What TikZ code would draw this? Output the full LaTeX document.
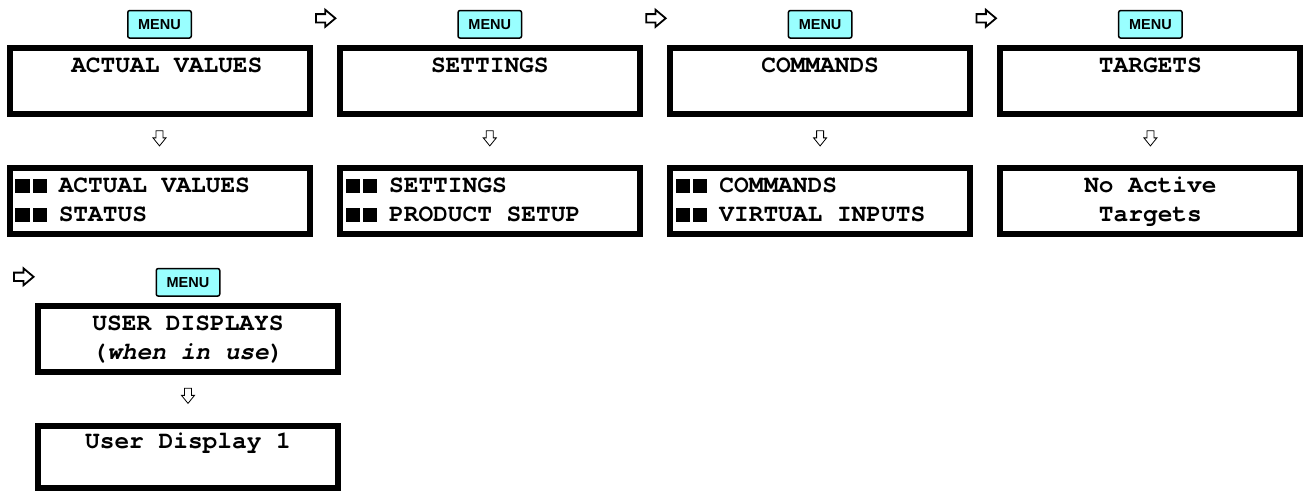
\documentclass[tikz,border=0pt]{standalone}
\usepackage{fontspec}
\usepackage{tikz}
\usetikzlibrary{shapes.arrows, positioning}
\newfontfamily\lcdfont{texgyrecursor}[Extension=.otf, UprightFont=*-regular,
    BoldFont=*-bold, ItalicFont=*-italic, BoldItalicFont=*-bolditalic]
\newfontfamily\keyfont{Liberation Sans}
\definecolor{menucyan}{RGB}{153, 255, 255}
\newcommand{\blk}{\rule{14pt}{14pt}\hspace{3.3pt}\rule{14pt}{14pt}\hspace{12pt}}

\begin{document}
\begin{tikzpicture}[
    lcd/.style={rectangle, draw, line width=6pt, minimum width=300pt,
                minimum height=66pt, inner sep=0pt, text width=288pt,
                align=left, font=\lcdfont\bfseries\fontsize{24.5}{29}\selectfont,
                execute at begin node={\spaceskip=0.6em\relax\strut},
                execute at end node=\strut},
    title/.style={lcd, align=center},
    key/.style={rectangle, draw, line width=1.5pt, rounded corners=2pt,
                fill=menucyan, minimum width=63.5pt, minimum height=27.5pt,
                inner sep=0pt, font=\keyfont\bfseries\fontsize{14.5}{16}\selectfont},
    next/.style={single arrow, draw, fill=white, line width=1.8pt,
                minimum height=19.5pt, minimum width=0pt, inner xsep=0pt,
                inner ysep=3.3pt, single arrow head extend=4.3pt,
                single arrow tip angle=80},
    down/.style={single arrow, draw, fill=white, line width=0.8pt,
                shape border rotate=270, minimum height=15.2pt, minimum width=0pt,
                inner xsep=3.1pt, inner ysep=0pt, single arrow head extend=3pt,
                single arrow tip angle=78}
]
    \useasboundingbox (0,0) rectangle (1306pt,-493pt);

    % Main menu pages
    \node[title] (actual) at (159.5pt,-81.3pt) {\hspace*{14.7pt}ACTUAL VALUES\\};
    \node[title, right=24.3pt of actual] (settings) {SETTINGS\\};
    \node[title, right=24.3pt of settings] (commands) {COMMANDS\\};
    \node[title, right=24.3pt of commands] (targets) {TARGETS\\};

    % First page below each
    \node[lcd, below=48pt of actual] (actualsub) {\blk ACTUAL VALUES\\\blk STATUS};
    \node[lcd, below=48pt of settings] (settingssub) {\blk SETTINGS\\\blk PRODUCT SETUP};
    \node[lcd, below=48pt of commands] (commandssub) {\blk COMMANDS\\\blk VIRTUAL INPUTS};
    \node[title, below=48pt of targets] (targetssub) {No Active\\Targets};

    % MENU keys
    \node[key, above=6.5pt of actual] (kactual) {MENU};
    \node[key, above=6.5pt of settings] (ksettings) {MENU};
    \node[key, above=6.5pt of commands] (kcommands) {MENU};
    \node[key, above=6.5pt of targets] (ktargets) {MENU};

    % Next-page arrows
    \node[next, above=27pt of settings.north west, anchor=tip] (nsettings) {};
    \node[next, above=27pt of commands.north west, anchor=tip] (ncommands) {};
    \node[next, above=27pt of targets.north west, anchor=tip] (ntargets) {};

    % Down arrows
    \node[down, below=13pt of actual.south, anchor=tail] (dactual) {};
    \node[down, below=13pt of settings.south, anchor=tail] (dsettings) {};
    \node[down, below=13pt of commands.south, anchor=tail] (dcommands) {};
    \node[down, below=13pt of targets.south, anchor=tail] (dtargets) {};

    % User displays
    \node[title, below=65.5pt of actualsub, xshift=28.5pt] (user) {USER DISPLAYS\\(\textit{when in use})};
    \node[key, above=6pt of user] (kuser) {MENU};
    \node[next, above=26pt of user.north west, anchor=tip] (nuser) {};
    \node[down, below=13pt of user.south, anchor=tail] (duser) {};
    \node[title, below=48pt of user, minimum height=62pt] (userone) {User Display 1\\};

\end{tikzpicture}
\end{document}
